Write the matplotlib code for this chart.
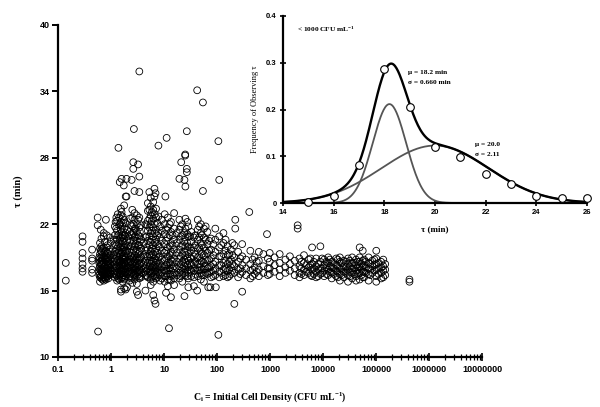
import numpy as np
import matplotlib
matplotlib.use("Agg")
import matplotlib.pyplot as plt
from matplotlib.ticker import FixedLocator, LogLocator, NullFormatter

plt.rcParams['font.family'] = ['Liberation Sans', 'DejaVu Sans']
plt.rcParams['mathtext.default'] = 'regular'
SERIF = ['Liberation Serif', 'DejaVu Serif']

# --- scatter data: initial cell density (CFU/mL) -> observed tau (min) ---
below_one = {
    0.14: [18.5, 16.9],
    0.29: [20.9, 20.4, 19.4, 18.9, 18.4, 18.0, 17.7],
    0.44: [19.7, 18.9, 18.7, 17.9, 17.6],
    0.56: [22.6, 21.9],
    0.57: [12.3],
    0.60: [19.0, 18.5, 18.0, 17.4],
    0.62: [20.3, 19.8, 19.3, 18.9, 18.6, 18.2, 17.9, 17.5, 17.2, 16.8],
    0.64: [21.5, 19.6, 18.4, 17.8, 17.3],
    0.66: [20.7, 20.0, 19.5, 19.0, 18.7, 18.3, 18.0, 17.7, 17.4, 17.1],
    0.69: [19.8, 19.2, 18.8, 18.4, 17.9, 17.6, 17.0],
    0.73: [21.2, 20.9, 19.9, 19.1, 18.5, 18.1, 17.8, 17.5, 17.2, 16.9],
    0.76: [20.4, 19.5, 18.9, 18.2, 17.7, 17.4, 17.1],
    0.80: [22.4, 19.6, 19.2, 18.8, 18.4, 18.0, 17.6, 17.3, 17.0],
    0.83: [21.0, 19.9, 19.0, 18.6, 18.0, 17.5, 17.2],
    0.86: [20.1, 19.4, 18.9, 18.6, 18.2, 17.9, 17.6, 17.3],
    0.89: [19.3, 18.7, 18.3, 17.8, 17.5, 17.1],
    0.93: [19.7, 19.0, 18.5, 18.1, 17.7, 17.4],
    0.96: [20.8, 19.5, 18.8, 18.4, 18.0, 17.6],
    0.99: [20.4, 19.2, 18.3, 17.8, 17.5],
}
one_to_ten = {
    1.12: [20.6, 19.2, 18.3, 17.5],
    1.18: [21.8, 21.0, 20.2, 19.5, 18.9, 18.4, 18.0, 17.6, 17.2],
    1.22: [22.2],
    1.25: [21.6, 20.1, 19.3, 18.2, 17.4],
    1.26: [22.6],
    1.30: [22.3, 21.4, 20.6, 19.8, 19.1, 18.6, 18.1, 17.7, 17.3, 16.9],
    1.34: [22.9],
    1.36: [21.0, 20.0, 19.4, 18.8, 18.3, 17.6, 17.1],
    1.38: [28.9],
    1.42: [22.6, 21.9, 21.1, 20.3, 19.6, 19.0, 18.5, 18.2, 17.8, 17.4, 17.0],
    1.46: [25.8],
    1.48: [22.0, 20.7, 19.9, 19.2, 18.6, 18.0, 17.5],
    1.54: [23.4, 22.8, 22.2, 21.5, 20.8, 20.0, 19.3, 18.7, 18.3, 17.9, 17.5, 17.1, 16.1, 15.9],
    1.58: [26.1, 23.1],
    1.60: [21.3, 20.5, 19.5, 18.9, 18.4, 17.7, 17.2],
    1.66: [22.7, 21.8, 21.0, 20.4, 19.7, 19.1, 18.6, 18.1, 17.6, 17.2, 16.8],
    1.70: [22.1, 20.9, 19.9, 18.9, 18.3, 17.8, 17.4],
    1.74: [25.5],
    1.77: [23.7, 22.4, 21.6, 20.7, 19.9, 19.2, 18.8, 18.4, 17.9, 17.4, 17.0, 16.2],
    1.83: [21.0, 20.3, 19.6, 19.0, 18.5, 18.0, 17.6, 17.1],
    1.89: [24.5, 22.1, 21.2, 20.1, 19.4, 18.9, 18.2, 17.7, 17.3, 16.1],
    1.96: [26.1, 24.5],
    2.0: [21.5, 20.5, 19.6, 18.7, 18.0, 17.5, 16.3],
    2.10: [20.9, 20.0, 19.2, 18.5, 18.1, 17.7],
    2.26: [22.5, 21.3, 20.4, 19.5, 18.8, 18.3, 17.8, 17.3, 16.9],
    2.38: [21.9, 21.1, 20.0, 19.1, 18.6, 18.1, 17.6, 17.1],
    2.45: [26.0],
    2.52: [23.3, 22.6, 21.8, 21.0, 20.2, 19.4, 18.9, 18.4, 18.0, 17.6, 17.2, 16.7],
    2.63: [27.6, 27.0],
    2.65: [22.0, 21.2, 20.5, 19.7, 19.0, 18.5, 18.0, 17.5],
    2.70: [30.6],
    2.77: [25.0, 23.0, 22.4, 21.6, 20.8, 20.0, 19.2, 18.7, 18.2, 17.8, 17.4, 17.0],
    2.90: [21.6, 20.9, 20.2, 19.5, 18.8, 18.3, 17.9, 17.4],
    3.07: [22.8, 22.0, 21.3, 20.5, 19.7, 19.0, 18.5, 18.1, 17.7, 17.3, 16.6, 15.9],
    3.24: [27.4, 15.6],
    3.25: [22.4, 21.0, 20.1, 19.3, 18.7, 18.2, 17.7],
    3.42: [35.8, 26.3, 24.9, 22.6, 21.7, 20.9, 20.1, 19.4, 18.8, 18.3, 17.9, 17.5, 17.1],
    3.50: [21.3, 20.4, 19.6, 18.9, 18.4, 17.8, 17.3],
    3.70: [21.9, 20.6, 19.8, 19.0, 18.5, 18.0, 17.6, 17.2],
    4.10: [20.3, 19.2, 18.3, 17.6],
    4.46: [22.0, 20.8, 19.6, 18.7, 18.0, 17.4, 16.0],
    4.70: [21.9, 20.9, 19.9, 19.1, 18.3, 17.8, 17.3],
    4.95: [23.9, 23.2, 22.3, 21.4, 20.5, 19.7, 19.0, 18.5, 18.0, 17.6, 17.2],
    5.28: [24.9],
    5.30: [23.3, 22.5, 21.7, 20.9, 20.1, 19.3, 18.7, 18.2, 17.7],
    5.61: [24.4, 23.6, 22.8, 22.0, 21.2, 20.4, 19.6, 19.0, 18.4, 17.9, 17.5, 17.0, 16.5],
    5.90: [23.1, 22.3, 21.4, 20.6, 19.8, 19.2, 18.6, 18.1, 17.6, 17.2],
    6.25: [24.0, 23.3, 22.5, 21.7, 20.9, 20.1, 19.3, 18.7, 18.2, 17.7, 17.3, 16.8, 15.6],
    6.59: [25.2, 24.5, 15.1],
    6.70: [22.9, 22.0, 21.2, 20.3, 19.5, 18.9, 18.3, 17.8, 17.3],
    6.91: [24.8, 14.8],
    7.07: [23.4, 22.6, 21.5, 20.6, 19.8, 19.1, 18.5, 18.0, 17.5, 17.1],
    7.50: [22.1, 21.0, 20.2, 19.4, 18.7, 18.1, 17.7, 17.2],
    7.84: [29.1, 22.7, 21.2, 20.0, 19.0, 18.2, 17.6],
    8.40: [21.8, 20.8, 19.9, 19.1, 18.4, 17.9, 17.4, 16.9],
    9.08: [22.4, 21.4, 20.5, 19.6, 18.8, 18.1, 17.6, 17.1],
}
ten_to_100 = {
    10.3: [22.9, 22.0, 21.1, 20.2, 19.4, 18.7, 18.2, 17.8, 17.3, 16.8],
    10.6: [24.5],
    10.9: [15.8],
    11.0: [21.5, 20.5, 19.6, 18.9, 18.3, 17.8, 17.3],
    11.2: [29.8],
    11.8: [22.6, 21.7, 20.8, 19.9, 19.1, 18.5, 18.0, 17.5, 17.0, 16.4],
    12.4: [12.6],
    12.8: [22.0, 21.0, 20.0, 19.2, 18.5, 18.0, 17.5, 17.0],
    13.5: [22.2, 21.3, 20.3, 19.5, 18.8, 18.3, 17.8, 17.3, 16.9, 15.4],
    14.5: [21.0, 20.1, 19.3, 18.6, 18.0, 17.4],
    15.5: [23.0, 21.6, 20.6, 19.7, 18.9, 18.2, 17.6, 17.1, 16.5],
    17.5: [21.2, 20.3, 19.4, 18.6, 18.0, 17.4],
    19.5: [26.1, 22.4, 21.5, 20.6, 19.7, 18.9, 18.2, 17.6, 17.1],
    20.8: [21.8, 20.9, 20.0, 19.1, 18.4, 17.8, 17.3],
    21.1: [27.6],
    22.1: [22.0, 21.0, 20.1, 19.3, 18.6, 18.0, 17.5, 16.8],
    24.0: [21.2, 20.4, 19.5, 18.8, 18.2, 17.6],
    24.3: [26.0, 15.5],
    25.1: [28.3, 28.2],
    25.3: [25.4, 22.5, 21.6, 20.8, 20.0, 19.2, 18.5, 17.9, 17.4],
    26.9: [30.4, 27.0, 26.7],
    27.5: [22.2, 21.1, 20.3, 19.6, 18.9, 18.3, 17.8, 17.3],
    28.8: [21.8, 20.9, 20.0, 19.3, 18.7, 18.1, 17.6, 17.1, 16.3],
    31.0: [20.9, 19.9, 19.0, 18.5, 17.9],
    32.6: [21.3, 20.4, 19.6, 18.9, 18.3, 17.8, 17.3],
    36.6: [20.8, 19.9, 19.1, 18.4, 17.8, 17.2, 16.4],
    39.0: [21.0, 20.1, 19.3, 18.6, 18.0, 17.5],
    42.2: [34.1, 16.0],
    43.3: [22.4, 21.5, 20.6, 19.8, 19.0, 18.4, 17.8, 17.3],
    46.0: [21.8, 20.8, 19.9, 19.1, 18.4, 17.8],
    49.5: [22.0, 21.2, 20.3, 19.5, 18.7, 18.1, 17.6, 17.0],
    52.0: [21.0, 20.1, 19.3, 18.6, 17.9, 17.4],
    54.2: [33.0, 25.0],
    56.6: [21.6, 20.8, 19.9, 19.2, 18.5, 17.9, 17.4, 16.8],
    61.0: [21.8, 20.6, 19.6, 18.8, 18.2, 17.6],
    65.9: [21.3, 20.2, 19.4, 18.7, 18.0, 17.5],
    68.2: [16.3],
    71.0: [20.5, 19.6, 18.8, 18.1, 17.6],
    75.0: [16.3],
    77.1: [20.7, 19.7, 18.9, 18.2, 17.7, 17.2],
    85.0: [20.2, 19.2, 18.4, 17.8, 17.3],
    92.9: [21.6, 20.6, 19.5, 18.6, 18.0, 17.4],
    94.9: [16.3],
}
hundred_to_1000 = {
    106: [29.5, 12.0],
    110: [26.0, 20.9, 19.9, 19.1, 18.3, 17.7, 17.2],
    120: [20.1, 19.1, 18.3, 17.6],
    132: [21.2, 20.3, 19.3, 18.5, 17.9, 17.3],
    145: [20.6, 19.6, 18.7, 18.0, 17.4],
    158: [20.0, 19.2, 18.4, 17.8, 17.2],
    170: [19.3, 18.6, 17.9, 17.3],
    182: [19.7, 18.8, 18.1, 17.5],
    195: [20.3, 19.2, 18.4, 17.8],
    212: [20.1, 19.0, 18.2, 17.6, 14.8],
    221: [22.4, 21.6],
    250: [19.5, 18.6, 17.9, 17.2],
    275: [18.9, 18.0, 17.5],
    298: [20.2, 19.1, 18.3, 17.7, 15.9],
    352: [18.8, 18.0, 17.4],
    406: [23.1],
    425: [19.6, 18.4, 17.8, 17.1],
    470: [18.8, 17.9, 17.3],
    512: [19.0, 18.1, 17.5],
    560: [18.6, 17.7],
    615: [19.5, 18.7, 17.9, 17.3],
    748: [19.3, 18.2, 17.6],
    877: [21.1],
    910: [18.9, 18.0, 17.4],
    986: [19.4, 18.6, 18.0, 17.5],
}
above_1000 = {
    1220: [19.0, 18.3, 17.7],
    1520: [19.3, 18.5, 17.9, 17.3],
    1950: [18.8, 18.1, 17.6],
    2370: [19.1, 18.4, 17.8],
    2920: [18.7, 18.0, 17.4],
    3320: [21.9, 21.6],
    3590: [18.9, 18.2, 17.6, 17.2],
    3900: [18.6, 18.0, 17.5],
    4370: [19.2, 18.5, 17.9, 17.4],
    4800: [18.3, 17.7],
    5360: [18.8, 18.1, 17.6],
    5800: [18.9, 18.3, 17.4],
    6210: [19.9, 18.4, 17.9, 17.3],
    6700: [18.6, 18.0, 17.5],
    7410: [18.9, 18.2, 17.7, 17.2],
    8100: [18.4, 17.9, 17.3],
    8910: [20.0, 18.6, 18.0, 17.5],
    9600: [18.9, 18.0, 17.6],
    10500: [18.8, 18.3, 17.8, 17.3],
    11500: [18.6, 18.1, 17.5],
    12500: [19.0, 18.5, 17.9, 17.4],
    13500: [18.8, 18.2, 17.7],
    14600: [18.6, 18.1, 17.6, 17.1],
    16000: [18.5, 18.0, 17.5],
    17700: [18.9, 18.3, 17.8, 17.3],
    19000: [18.8, 18.2, 17.7, 17.2],
    20800: [19.0, 18.6, 18.0, 17.5, 16.9],
    22500: [18.5, 17.9, 17.4],
    24800: [18.7, 18.2, 17.7, 17.2],
    27000: [18.6, 18.1, 17.6],
    29600: [18.9, 18.4, 17.9, 17.4, 16.8],
    32000: [18.7, 18.2, 17.7, 17.3],
    35400: [19.0, 18.5, 18.0, 17.6, 17.1],
    38500: [18.5, 18.0, 17.5],
    42000: [18.8, 18.3, 17.8, 17.3, 16.9],
    45000: [18.6, 18.1, 17.6],
    49100: [19.9, 19.0, 18.6, 18.1, 17.6, 17.0],
    53000: [18.4, 17.9, 17.4],
    56100: [19.6, 18.7, 18.2, 17.7, 17.2],
    59600: [18.8, 18.3, 17.7, 17.2],
    64000: [18.6, 18.1, 17.6],
    72400: [19.0, 18.5, 18.0, 17.5, 16.9],
    78000: [18.4, 17.9, 17.4],
    85000: [18.7, 18.2, 17.6],
    93000: [18.8, 18.3, 17.8],
    101000: [19.6, 18.9, 18.4, 17.9, 17.3, 16.8],
    112000: [18.5, 18.0, 17.5],
    125000: [18.6, 18.1, 17.6, 17.1],
    137000: [18.8, 18.2, 17.8, 17.2],
    149000: [18.4, 17.9, 17.4],
    427000: [16.8, 17.0],
}

# --- inset: frequency of tau for < 1000 CFU/mL ---
inset_tau = [15, 16, 17, 18, 19, 20, 21, 22, 23, 24, 25, 26]
inset_freq = [0.003, 0.016, 0.082, 0.286, 0.206, 0.119, 0.099, 0.063, 0.040, 0.016, 0.011, 0.010]
fast_mu, fast_sigma, fast_weight = 18.2, 0.660, 0.35
slow_mu, slow_sigma, slow_weight = 20.0, 2.11, 0.65

x_ticks = [0.1, 1, 10, 100, 1000, 1e4, 1e5, 1e6, 1e7]
x_ticklabels = ['0.1', '1', '10', '100', '1000', '10000', '100000', '1000000', '10000000']
y_ticks = [10, 16, 22, 28, 34, 40]


def flatten(*groups):
    cfu, tau = [], []
    for g in groups:
        for c, ts in g.items():
            cfu += [c] * len(ts)
            tau += ts
    return cfu, tau


def normal_pdf(x, mu, s):
    return np.exp(-0.5 * ((x - mu) / s) ** 2) / (s * np.sqrt(2 * np.pi))


cfu, tau = flatten(below_one, one_to_ten, ten_to_100, hundred_to_1000, above_1000)

fig = plt.figure(figsize=(6, 4.07), dpi=100)
ax = fig.add_axes([0.0967, 0.1229, 0.7067, 0.8157])
ax.scatter(cfu, tau, s=24, facecolors='none', edgecolors='black', linewidths=0.6, zorder=3)
ax.set_xscale('log')
ax.set_xlim(0.1, 1e7)
ax.set_ylim(10, 40)
ax.xaxis.set_major_locator(FixedLocator(x_ticks))
ax.set_xticklabels(x_ticklabels)
ax.xaxis.set_minor_locator(LogLocator(base=10, subs=range(2, 10), numticks=100))
ax.xaxis.set_minor_formatter(NullFormatter())
ax.set_yticks(y_ticks)
for s in ['top', 'right']:
    ax.spines[s].set_visible(False)
for s in ['left', 'bottom']:
    ax.spines[s].set_linewidth(1.6)
ax.tick_params(axis='x', which='major', direction='inout', length=6, width=1.2, labelsize=6.5, pad=3)
ax.tick_params(axis='x', which='minor', direction='inout', length=4, width=0.9)
ax.tick_params(axis='y', direction='out', length=4, width=1.4, labelsize=6.5, pad=2)
for lab in ax.get_xticklabels() + ax.get_yticklabels():
    lab.set_fontweight('bold')
ax.set_xlabel('C$_{i}$ = Initial Cell Density (CFU mL$^{-1}$)', family=SERIF,
              fontweight='bold', fontsize=7)
ax.xaxis.set_label_coords(0.5, -0.099)
ax.set_ylabel('τ (min)', family=SERIF, fontweight='bold', fontsize=7.5)
ax.yaxis.set_label_coords(-0.083, 0.5)

# inset
axi = fig.add_axes([0.4717, 0.5012, 0.5067, 0.4595])
axi.patch.set_alpha(0)
t = np.linspace(14, 26, 400)
fast = fast_weight * normal_pdf(t, fast_mu, fast_sigma)
slow = slow_weight * normal_pdf(t, slow_mu, slow_sigma)
axi.plot(t, fast, color='#555555', lw=1.3)
axi.plot(t, slow, color='#555555', lw=1.3)
axi.plot(t, fast + slow, color='black', lw=1.7)
axi.plot(inset_tau, inset_freq, 'o', mfc='white', mec='black', ms=5.5, mew=0.8,
         clip_on=False, zorder=5)
axi.set_xlim(14, 26)
axi.set_ylim(0, 0.4)
axi.set_xticks(range(14, 27, 2))
axi.set_yticks([0, 0.1, 0.2, 0.3, 0.4])
axi.set_yticklabels(['0', '0.1', '0.2', '0.3', '0.4'])
for s in ['top', 'right']:
    axi.spines[s].set_visible(False)
for s in ['left', 'bottom']:
    axi.spines[s].set_linewidth(1.6)
axi.tick_params(direction='inout', length=5, width=1.2, labelsize=5.5, pad=2)
for lab in axi.get_xticklabels() + axi.get_yticklabels():
    lab.set_fontweight('bold')
axi.set_ylabel('Frequency of Observing τ', family=SERIF, fontsize=6)
axi.yaxis.set_label_coords(-0.079, 0.5)
axi.set_xlabel('τ (min)', family=SERIF, fontweight='bold', fontsize=6.5)
axi.xaxis.set_label_coords(0.5, -0.118)

note = dict(family=SERIF, fontweight='bold', fontsize=5.3, va='center', ha='left')
axi.text(14.55, 0.372, '< 1000 CFU mL$^{-1}$', **note)
axi.text(18.93, 0.279, 'μ = 18.2 min', **note)
axi.text(18.93, 0.257, 'σ = 0.660 min', **note)
axi.text(21.58, 0.126, 'μ = 20.0', **note)
axi.text(21.58, 0.104, 'σ = 2.11', **note)

fig.savefig('out.png', dpi=100)
